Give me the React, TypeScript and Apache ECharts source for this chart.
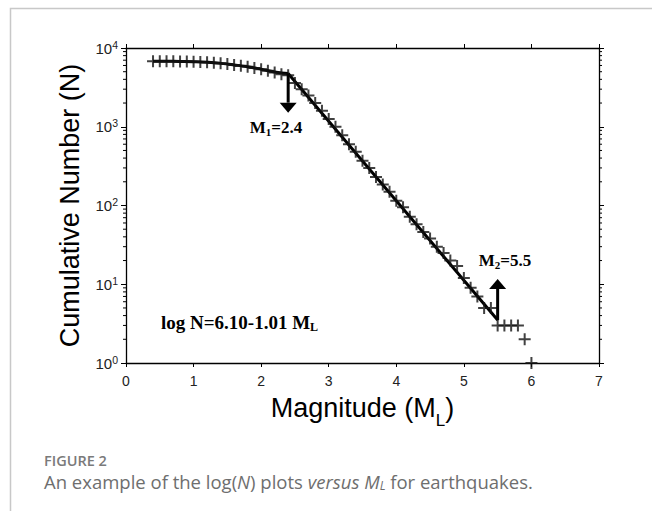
import React, { useEffect, useRef } from "react";
import * as echarts from "echarts";

// Magnitude bins and cumulative numbers
const magnitudes = [
  0.4, 0.5, 0.6, 0.7, 0.8, 0.9, 1.0, 1.1, 1.2, 1.3, 1.4, 1.5, 1.6, 1.7, 1.8, 1.9,
  2.0, 2.1, 2.2, 2.3, 2.4, 2.5, 2.6, 2.7, 2.8, 2.9, 3.0, 3.1, 3.2, 3.3, 3.4, 3.5,
  3.6, 3.7, 3.8, 3.9, 4.0, 4.1, 4.2, 4.3, 4.4, 4.5, 4.6, 4.7, 4.8, 4.9, 5.0, 5.1,
  5.2, 5.3, 5.4, 5.5, 5.6, 5.7, 5.8, 5.9, 6.0,
];
const cumulative = [
  6800, 6800, 6790, 6780, 6760, 6740, 6700, 6650, 6580, 6500, 6380, 6250, 6100, 5950, 5780, 5580,
  5380, 5150, 4900, 4650, 4500, 3600, 3000, 2500, 2000, 1600, 1250, 1000, 780, 600, 480, 370,
  300, 230, 185, 150, 115, 95, 72, 58, 46, 38, 30, 25, 20, 17, 12, 9,
  7, 5, 5, 3, 3, 3, 3, 2, 1,
];

// Smooth curve below the completeness magnitude
const curveM = [0.4, 0.6, 0.8, 1.0, 1.2, 1.4, 1.6, 1.8, 2.0, 2.2, 2.4];
const curveN = [6800, 6790, 6760, 6700, 6580, 6380, 6100, 5780, 5380, 4950, 4742];

// Gutenberg-Richter fit: log N = a - b M, between M1 and M2
const fitA = 6.1;
const fitB = 1.01;
const fitRange = [2.4, 5.5];

// Arrows marking M1 and M2 (magnitude, start N, tip N)
const arrowM = [2.4, 5.5];
const arrowFrom = [4742, 3.5];
const arrowTo = [1510, 11.7];

const yTicks = [1, 10, 100, 1000, 10000];
const xTicks = [0, 1, 2, 3, 4, 5, 6, 7];

const minorTickVals: number[] = [];
for (const d of [1, 10, 100, 1000]) for (let k = 2; k <= 9; k++) minorTickVals.push(k * d);

const PLUS = "path://M5,0H7V5H12V7H7V12H5V7H0V5H5Z";

export default function App() {
  const ref = useRef<HTMLDivElement>(null);
  useEffect(() => {
    document.body.style.margin = "0";
    const chart = echarts.init(ref.current!, null, { renderer: "svg" });
    const sans = "'Liberation Sans', Arial, sans-serif";
    const serif = "'Liberation Serif', 'Times New Roman', serif";
    const fitLine = fitRange.map((m) => [m, Math.pow(10, fitA - fitB * m)]);
    const axisLine = { show: true, onZero: false, lineStyle: { color: "#000", width: 1.3 } };
    const serifRich = (size: number) => ({
      m: { fontFamily: serif, fontWeight: "bold", fontSize: size, lineHeight: size + 3, fill: "#000" },
      sub: { fontFamily: serif, fontWeight: "bold", fontSize: Math.round(size * 0.65), lineHeight: 10, verticalAlign: "bottom", fill: "#000" },
    });
    const option: any = {
      animation: false,
      backgroundColor: "#fff",
      grid: { left: 126, right: 53, top: 48, bottom: 148, containLabel: false },
      xAxis: [
        {
          type: "value",
          min: 0,
          max: 7,
          interval: 1,
          position: "bottom",
          name: "Magnitude (M{sub|L})",
          nameLocation: "middle",
          nameGap: 29,
          nameTextStyle: {
            fontFamily: sans,
            fontSize: 27,
            lineHeight: 30,
            color: "#000",
            rich: { sub: { fontSize: 17, fontFamily: sans, verticalAlign: "bottom", lineHeight: 12, padding: [0, 0, -6, 0] } },
          },
          axisLine,
          axisTick: { show: true, length: 4, lineStyle: { color: "#000", width: 1 } },
          axisLabel: {
            fontFamily: sans,
            fontSize: 14,
            color: "#222",
            margin: 11,
            formatter: (v: number) => (xTicks.includes(v) ? String(v) : ""),
          },
          splitLine: { show: false },
        },
        {
          type: "value",
          min: 0,
          max: 7,
          interval: 1,
          position: "top",
          axisLine,
          axisTick: { show: true, length: 4, lineStyle: { color: "#000", width: 1 } },
          axisLabel: { show: false },
          splitLine: { show: false },
        },
      ],
      yAxis: [
        {
          type: "log",
          logBase: 10,
          min: 1,
          max: 10000,
          position: "left",
          name: "Cumulative Number (N)",
          nameLocation: "middle",
          nameGap: 38,
          nameRotate: 90,
          nameTextStyle: { fontFamily: sans, fontSize: 27, lineHeight: 30, color: "#000" },
          axisLine,
          axisTick: { show: true, length: 5, lineStyle: { color: "#000", width: 1 } },
          axisLabel: {
            margin: 8,
            formatter: (v: number) =>
              yTicks.includes(Math.round(v)) ? `{b|10}{s|${Math.round(Math.log10(v))}}` : "",
            rich: {
              b: { fontFamily: sans, fontSize: 15, color: "#222", lineHeight: 18 },
              s: { fontFamily: sans, fontSize: 10.5, color: "#222", verticalAlign: "top", lineHeight: 10 },
            },
          },
          splitLine: { show: false },
        },
        {
          type: "log",
          logBase: 10,
          min: 1,
          max: 10000,
          position: "right",
          axisLine,
          axisTick: { show: true, length: 5, lineStyle: { color: "#000", width: 1 } },
          axisLabel: { show: false },
          splitLine: { show: false },
        },
      ],
      series: [
        {
          type: "custom",
          name: "minorTicks",
          silent: true,
          clip: false,
          data: minorTickVals.map((v) => [0, v]),
          renderItem: (params: any, api: any) => {
            const v = api.value(1);
            const l = api.coord([0, v]);
            const r = api.coord([7, v]);
            return {
              type: "group",
              children: [
                { type: "line", shape: { x1: l[0] - 3, y1: l[1], x2: l[0], y2: l[1] }, style: { stroke: "#000", lineWidth: 1 } },
                { type: "line", shape: { x1: r[0], y1: r[1], x2: r[0] + 3, y2: r[1] }, style: { stroke: "#000", lineWidth: 1 } },
              ],
            };
          },
          z: 1,
        },
        {
          type: "line",
          name: "curve",
          data: curveM.map((m, i) => [m, curveN[i]]),
          showSymbol: false,
          smooth: true,
          lineStyle: { color: "#000", width: 3 },
          z: 3,
        },
        {
          type: "line",
          name: "fit",
          data: fitLine,
          showSymbol: false,
          lineStyle: { color: "#000", width: 3 },
          z: 3,
        },
        {
          type: "scatter",
          name: "data",
          data: magnitudes.map((m, i) => [m, cumulative[i]]),
          symbol: PLUS,
          symbolSize: 12,
          itemStyle: { color: "#111" },
          clip: false,
          z: 4,
        },
        {
          type: "custom",
          name: "arrows",
          clip: false,
          data: arrowM.map((m, i) => [m, arrowFrom[i], arrowTo[i]]),
          renderItem: (params: any, api: any) => {
            const p0 = api.coord([api.value(0), api.value(1)]);
            const p1 = api.coord([api.value(0), api.value(2)]);
            const dir = p1[1] > p0[1] ? 1 : -1;
            const base = p1[1] - dir * 10;
            return {
              type: "group",
              children: [
                { type: "line", shape: { x1: p0[0], y1: p0[1], x2: p0[0], y2: base }, style: { stroke: "#000", lineWidth: 3 } },
                {
                  type: "polygon",
                  shape: { points: [[p1[0] - 8.5, base], [p1[0] + 8.5, base], [p1[0], p1[1]]] },
                  style: { fill: "#000" },
                },
              ],
            };
          },
          z: 5,
        },
      ],
      graphic: [
        {
          type: "rect",
          shape: { x: 10.5, y: 8.5, width: 700, height: 600 },
          style: { fill: "none", stroke: "#c8c8c8", lineWidth: 1.5 },
          silent: true,
        },
        {
          type: "text",
          x: 276,
          y: 127,
          style: { text: "{m|M}{sub|1}{m|=2.4}", align: "center", verticalAlign: "middle", rich: serifRich(17) },
        },
        {
          type: "text",
          x: 505,
          y: 260,
          style: { text: "{m|M}{sub|2}{m|=5.5}", align: "center", verticalAlign: "middle", rich: serifRich(17) },
        },
        {
          type: "text",
          x: 161,
          y: 322,
          style: { text: "{m|log N=6.10-1.01 M}{sub|L}", align: "left", verticalAlign: "middle", rich: serifRich(19) },
        },
        {
          type: "text",
          x: 44,
          y: 460,
          style: {
            text: "FIGURE 2",
            fontFamily: "'Open Sans', sans-serif",
            fontWeight: 600,
            fontSize: 14.5,
            lineHeight: 14,
            fill: "#7a7a7a",
            verticalAlign: "middle",
          },
        },
        {
          type: "text",
          x: 44,
          y: 481,
          style: {
            text: "{n|An example of the log(}{i|N}{n|) plots }{i|versus M}{is|L}{n| for earthquakes.}",
            verticalAlign: "middle",
            rich: {
              n: { fontFamily: "'Open Sans', sans-serif", fontSize: 18.5, fill: "#6e6e6e", lineHeight: 20 },
              i: { fontFamily: "'Open Sans', sans-serif", fontSize: 18.5, fontStyle: "italic", fill: "#6e6e6e", lineHeight: 20 },
              is: { fontFamily: "'Open Sans', sans-serif", fontSize: 12, fontStyle: "italic", fill: "#6e6e6e", lineHeight: 12, verticalAlign: "bottom" },
            },
          },
        },
      ],
    };
    chart.setOption(option);
    return () => chart.dispose();
  }, []);
  return <div ref={ref} style={{ width: 652, height: 511 }} />;
}
